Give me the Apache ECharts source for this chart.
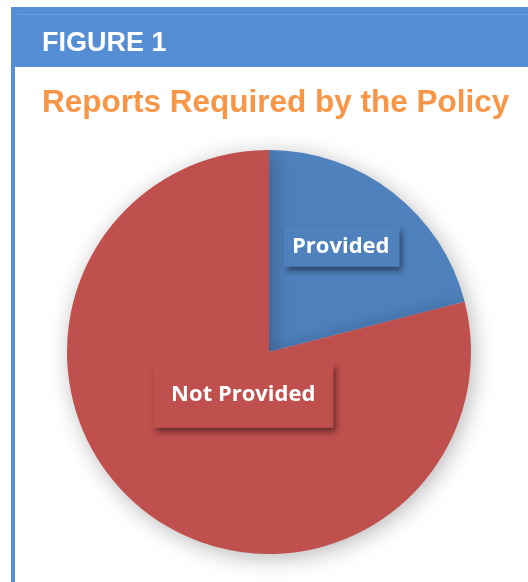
<!DOCTYPE html>
<html><head><meta charset="utf-8">
<script src="https://cdn.jsdelivr.net/npm/echarts@6/dist/echarts.min.js"></script>
<style>html,body{margin:0;padding:0;background:#fff}#c{width:528px;height:582px}</style>
</head><body><div id="c"></div>
<script>
const figureLabel = 'FIGURE 1';
const chartTitle = 'Reports Required by the Policy';
const categories = ['Provided', 'Not Provided'];
const values = [21, 79];
const colors = ['#4F81BD', '#C0504D'];
const labelOffsets = [[9, -23], [38, -39]];
const labelPads = [[9, 10, 9, 8], [21, 18, 22, 18]];

const chart = echarts.init(document.getElementById('c'));
chart.setOption({
  animation: false,
  graphic: [
    { type: 'rect', shape: { x: 13, y: 9, width: 530, height: 600 }, style: { fill: '#fff', stroke: '#558ED5', lineWidth: 4 }, z: -10 },
    { type: 'rect', shape: { x: 13, y: 9, width: 530, height: 58 }, style: { fill: '#558ED5' }, z: -9 },
    { type: 'rect', shape: { x: 17, y: 14, width: 530, height: 1 }, style: { fill: '#6C9EDC' }, z: -8 }
  ],
  title: [
    { text: figureLabel, left: 37, top: 25, textStyle: { color: '#fff', fontFamily: 'Liberation Sans', fontWeight: 'bold', fontSize: 27 } },
    { text: chartTitle, left: 37, top: 82, textStyle: { color: '#F79646', fontFamily: 'Liberation Sans', fontWeight: 'bold', fontSize: 31.5 } }
  ],
  series: [{
    type: 'pie',
    center: [269, 352],
    radius: 202,
    startAngle: 90,
    clockwise: true,
    silent: true,
    itemStyle: { shadowBlur: 22, shadowColor: 'rgba(0,0,0,0.28)', shadowOffsetX: 3, shadowOffsetY: 4 },
    label: {
      show: true,
      position: 'inside',
      color: '#fff',
      fontFamily: 'Open Sans',
      fontWeight: 'bold',
      fontSize: 22,
      lineHeight: 22,
      shadowBlur: 6,
      shadowColor: 'rgba(0,0,0,0.45)',
      shadowOffsetX: 3,
      shadowOffsetY: 4
    },
    labelLine: { show: false },
    data: categories.map((n, i) => ({
      name: n,
      value: values[i],
      itemStyle: { color: colors[i] },
      label: { backgroundColor: colors[i], padding: labelPads[i], offset: labelOffsets[i] }
    }))
  }]
});
</script></body></html>
